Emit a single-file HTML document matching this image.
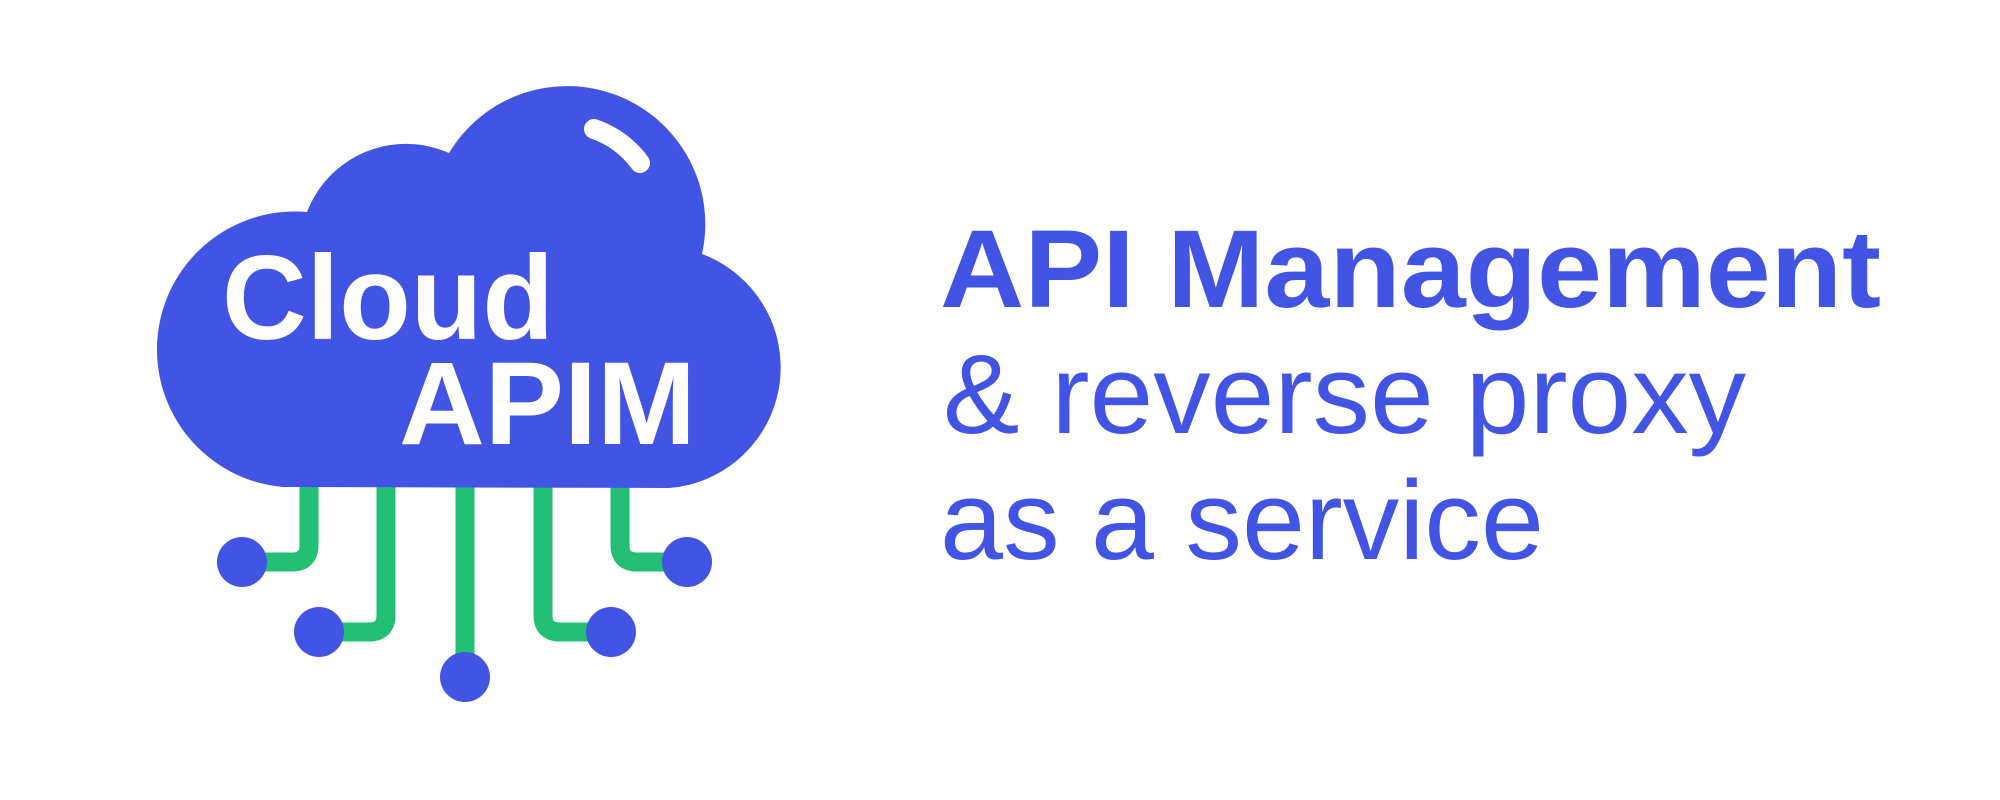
<!DOCTYPE html>
<html><head><meta charset="utf-8"><style>
html,body{margin:0;padding:0;background:#fff;}
svg{display:block;}
</style></head><body>
<svg width="2000" height="800" viewBox="0 0 2000 800" xmlns="http://www.w3.org/2000/svg">
<g fill="none" stroke="#22BF74" stroke-width="19">
<path d="M309,480 V545 Q309,562 292,562 H242"/>
<path d="M386,480 V615 Q386,632 369,632 H319"/>
<path d="M465,480 V677"/>
<path d="M543,480 V615 Q543,632 560,632 H611"/>
<path d="M620,480 V545 Q620,562 637,562 H687"/>
</g>
<g fill="#4254E3">
<circle cx="242" cy="562" r="25"/>
<circle cx="319" cy="632" r="25"/>
<circle cx="465" cy="677" r="25"/>
<circle cx="611" cy="632" r="25"/>
<circle cx="687" cy="562" r="25"/>
<path d="M283,487 A138,138 0 1 1 307,212 A106,106 0 0 1 449,153 A138,138 0 0 1 702,254 A121,121 0 0 1 669,488 Z"/>
</g>
<path d="M594,129 A97,97 0 0 1 640,163" fill="none" stroke="#fff" stroke-width="20" stroke-linecap="round"/>
<g fill="#fff" font-family="Liberation Sans, sans-serif" font-weight="bold">
<text x="222" y="339" font-size="120" textLength="332" lengthAdjust="spacingAndGlyphs">Cloud</text>
<text x="399" y="444" font-size="118" textLength="297" lengthAdjust="spacingAndGlyphs">APIM</text>
</g>
<g fill="#4254E3" font-family="Liberation Sans, sans-serif">
<text x="940" y="307" font-size="110" font-weight="bold" textLength="941" lengthAdjust="spacingAndGlyphs">API Management</text>
<text x="943" y="433" font-size="112" textLength="803" lengthAdjust="spacingAndGlyphs">&amp; reverse proxy</text>
<text x="940" y="559" font-size="112" textLength="604" lengthAdjust="spacingAndGlyphs">as a service</text>
</g>
</svg>
</body></html>
